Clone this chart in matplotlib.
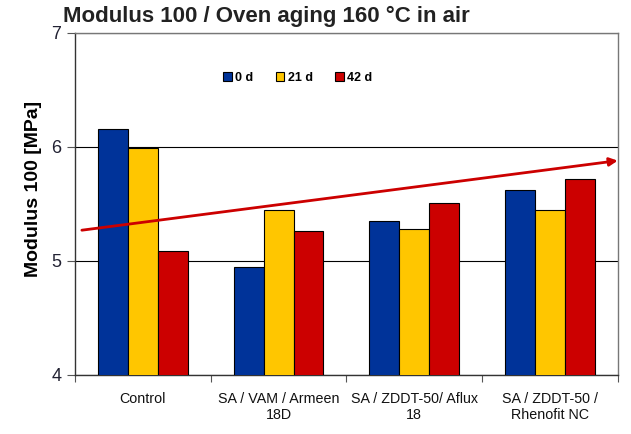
import numpy as np
import matplotlib
matplotlib.use('Agg')
import matplotlib.pyplot as plt

plt.rcParams['font.family'] = ['Liberation Sans', 'DejaVu Sans']

# Data
categories = ['Control', 'SA / VAM / Armeen\n18D', 'SA / ZDDT-50/ Aflux\n18', 'SA / ZDDT-50 /\nRhenofit NC']
series_names = ['0 d', '21 d', '42 d']
values_0d = [6.16, 4.95, 5.35, 5.62]
values_21d = [5.99, 5.45, 5.28, 5.45]
values_42d = [5.09, 5.26, 5.51, 5.72]
colors = ['#003399', '#FFC600', '#CC0000']

# hand-drawn trend arrow (data coords)
trend_start = (-0.45, 5.27)
trend_end = (3.5, 5.88)

fig = plt.figure(figsize=[6.31, 4.34], dpi=100)
ax = fig.add_axes([0.119, 0.136, 0.860, 0.788])

x = np.arange(len(categories))
width = 0.22
for i, (name, vals) in enumerate(zip(series_names, [values_0d, values_21d, values_42d])):
    ax.bar(x + (i - 1) * width, vals, width, color=colors[i], edgecolor='black',
           linewidth=0.8, label=name, zorder=3)

ax.set_xlim(-0.5, 3.5)
ax.set_ylim(4, 7)
ax.set_yticks([4, 5, 6, 7])
ax.yaxis.grid(True, color='black', linewidth=0.8, zorder=0)
ax.tick_params(axis='y', labelsize=13, length=6, width=0.8, color='#555555', pad=4,
               labelcolor='#222233')

ax.set_xticks(x)
ax.set_xticklabels(categories, fontsize=10.3, color='#111111')
ax.tick_params(axis='x', length=0, pad=12)
ax.set_xticks(np.arange(-0.5, 3.6, 1), minor=True)
ax.tick_params(axis='x', which='minor', length=5, width=0.8, color='#555555')

for s in ax.spines.values():
    s.set_color('#777777')
    s.set_linewidth(1.0)
ax.spines['left'].set_color('#333333')
ax.spines['bottom'].set_color('#333333')

ax.set_ylabel('Modulus 100 [MPa]', fontsize=14, fontweight='bold')
ax.yaxis.set_label_coords(-0.061, 0.545)

ax.annotate('', xy=trend_end, xytext=trend_start,
            arrowprops=dict(arrowstyle='-|>', color='#CC0000', lw=2.0,
                            mutation_scale=12, shrinkA=0, shrinkB=0),
            zorder=5, annotation_clip=False)

leg = ax.legend(loc='upper center', bbox_to_anchor=(0.41, 0.92), ncol=3, frameon=False,
                handlelength=0.7, handleheight=0.7, handletextpad=0.25, columnspacing=1.8,
                prop={'weight': 'bold', 'size': 9})

fig.text(0.100, 0.962, 'Modulus 100 / Oven aging 160 °C in air', fontsize=16,
         fontweight='bold', color='#222222', va='center', ha='left')

fig.savefig('out.png', dpi=100)
